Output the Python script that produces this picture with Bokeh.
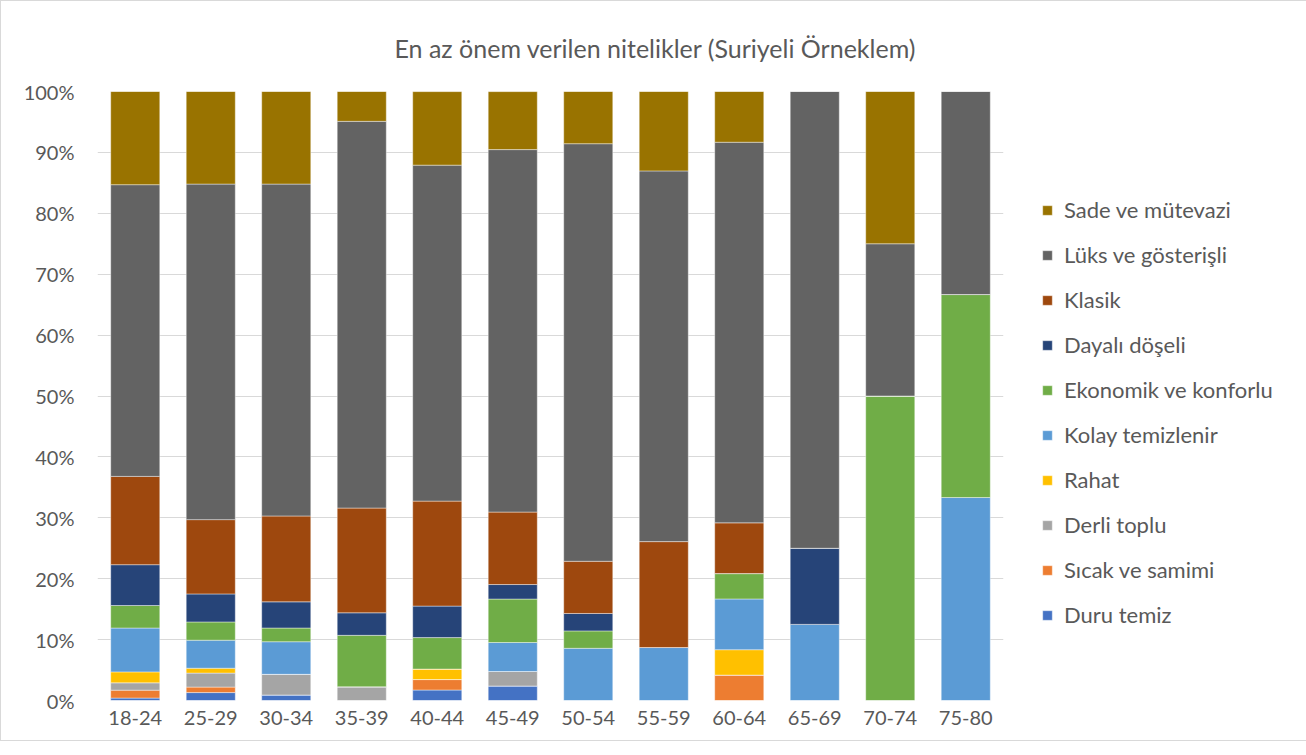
from bokeh.plotting import figure
from bokeh.models import Legend, LegendItem, PrintfTickFormatter, FactorRange, Title, Range1d
from bokeh.embed import file_html
from bokeh.resources import INLINE

groups = ["18-24", "25-29", "30-34", "35-39", "40-44", "45-49",
          "50-54", "55-59", "60-64", "65-69", "70-74", "75-80"]

duru_temiz      = [0.4, 1.3, 0.9, 0.0, 1.72, 2.38, 0, 0, 0, 0, 0, 0]
sicak_samimi    = [1.3, 0.9, 0.0, 0.0, 1.72, 0.0, 0, 0, 4.17, 0, 0, 0]
derli_toplu     = [1.2, 2.3, 3.4, 2.25, 0.0, 2.38, 0, 0, 0, 0, 0, 0]
rahat           = [1.8, 0.8, 0.0, 0.0, 1.72, 0.0, 0, 0, 4.17, 0, 0, 0]
kolay_temiz     = [7.2, 4.6, 5.35, 0.0, 0.0, 4.76, 8.57, 8.70, 8.33, 12.5, 0, 33.33]
ekonomik        = [3.7, 3.0, 2.25, 8.45, 5.17, 7.14, 2.86, 0, 4.17, 0, 50, 33.33]
dayali_doseli   = [6.7, 4.6, 4.3, 3.7, 5.17, 2.38, 2.86, 0, 0, 12.5, 0, 0]
klasik          = [14.5, 12.2, 14.1, 17.2, 17.24, 11.9, 8.57, 17.39, 8.33, 0, 0, 0]
luks            = [47.9, 55.1, 54.5, 63.5, 55.17, 59.52, 68.57, 60.87, 62.5, 75, 25, 33.34]
sade            = [15.3, 15.2, 15.2, 4.9, 12.07, 9.52, 8.57, 13.04, 8.33, 0, 25, 0]

series_names = ["Duru temiz", "Sıcak ve samimi", "Derli toplu", "Rahat",
                "Kolay temizlenir", "Ekonomik ve konforlu", "Dayalı döşeli",
                "Klasik", "Lüks ve gösterişli", "Sade ve mütevazi"]
series_values = [duru_temiz, sicak_samimi, derli_toplu, rahat, kolay_temiz,
                 ekonomik, dayali_doseli, klasik, luks, sade]
colors = ["#4472C4", "#ED7D31", "#A5A5A5", "#FFC000", "#5B9BD5",
          "#70AD47", "#264478", "#9E480E", "#636363", "#997300"]

keys = ["s%d" % i for i in range(len(series_names))]
data = {"g": groups}
for k, v in zip(keys, series_values):
    data[k] = v

FONT = "Lato"
TXT = "#595959"

p = figure(x_range=FactorRange(*groups, range_padding=0), y_range=Range1d(0, 100),
           frame_width=906, frame_height=609, output_backend="svg", toolbar_location=None,
           min_border_left=96, min_border_right=288, min_border_top=90, min_border_bottom=40)

renderers = p.vbar_stack(keys, x="g", width=0.65, source=data, color=colors,
                         line_color="white", line_width=0.6, line_alpha=0.7)

p.yaxis.ticker = list(range(0, 101, 10))
p.yaxis.formatter = PrintfTickFormatter(format="%d%%")
for ax in (p.xaxis, p.yaxis):
    ax.axis_line_color = None
    ax.major_tick_line_color = None
    ax.minor_tick_line_color = None
    ax.major_label_text_font = FONT
    ax.major_label_text_font_size = "20px"
    ax.major_label_text_color = TXT
p.yaxis.major_label_standoff = 17
p.xaxis.major_label_standoff = 4

p.xgrid.grid_line_color = None
p.ygrid.grid_line_color = "#D9D9D9"
p.ygrid.grid_line_width = 1
p.outline_line_color = None
p.background_fill_color = "white"
p.border_fill_color = "white"

t = Title(text="En az önem verilen nitelikler (Suriyeli Örneklem)", align="left",
          text_font=FONT, text_font_size="25px", text_color=TXT,
          text_font_style="normal", offset=297, standoff=58)
p.add_layout(t, "above")

items = [LegendItem(label=n, renderers=[r]) for n, r in zip(series_names, renderers)]
items = items[::-1]
legend = Legend(items=items, location=(38, 72), orientation="vertical",
                label_text_font=FONT, label_text_font_size="22px", label_text_color=TXT,
                glyph_width=12, glyph_height=12, label_standoff=11, label_height=24,
                spacing=18, padding=0, margin=0, border_line_color=None,
                background_fill_alpha=0)
p.add_layout(legend, "right")

p.styles = {"border": "1px solid #D9D9D9"}

open("out.html", "w").write(file_html(p, INLINE))
